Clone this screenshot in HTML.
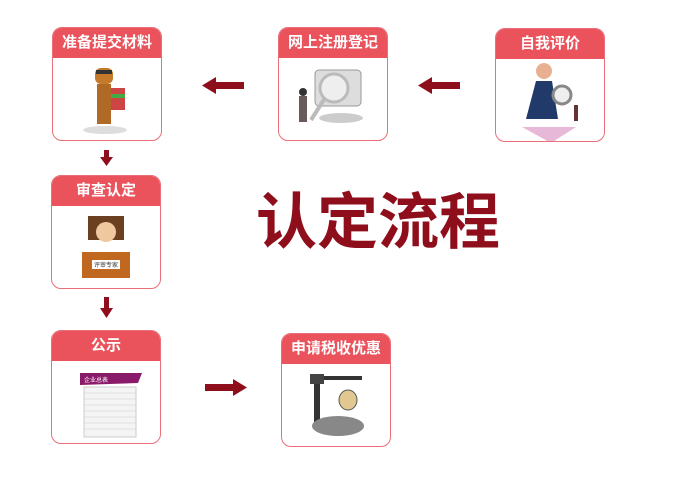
<!DOCTYPE html>
<html><head><meta charset="utf-8"><style>
body{margin:0;width:684px;height:482px;background:#fff;position:relative;overflow:hidden;font-family:"Liberation Sans","Noto Sans CJK SC",sans-serif}
.box{position:absolute;width:108px;height:112px;border:1.5px solid #ea6f78;border-radius:10px;overflow:hidden;background:#fff}
.hd{height:30px;background:#ea535c;color:#fff;font-weight:bold;font-size:15px;text-align:center;line-height:30px}
.ar{position:absolute;background:#8e0e1b}
.title{position:absolute;left:256px;top:186px;font-size:61px;font-weight:bold;color:#8e0e1b;letter-spacing:0px;line-height:72px}
</style></head><body>
<div class="box" style="left:52px;top:27px"><div class="hd">准备提交材料</div>
<svg width="108" height="82"><ellipse cx="52" cy="72" rx="22" ry="4" fill="#ddd"/><rect x="42" y="10" width="18" height="16" rx="6" fill="#c47a2a"/><rect x="44" y="26" width="14" height="40" fill="#b06a26"/><rect x="58" y="30" width="14" height="22" fill="#c44"/><rect x="58" y="36" width="14" height="4" fill="#4a4"/><rect x="43" y="12" width="16" height="4" fill="#333"/></svg></div>
<div class="box" style="left:278px;top:27px"><div class="hd">网上注册登记</div>
<svg width="108" height="82"><rect x="36" y="12" width="46" height="36" rx="4" fill="#ddd" stroke="#999"/><circle cx="55" cy="30" r="14" fill="#eee" stroke="#bbb" stroke-width="3"/><line x1="46" y1="40" x2="32" y2="62" stroke="#bbb" stroke-width="4"/><rect x="20" y="38" width="8" height="26" fill="#6a5a5a"/><circle cx="24" cy="34" r="4" fill="#333"/><ellipse cx="62" cy="60" rx="22" ry="5" fill="#ccc"/></svg></div>
<div class="box" style="left:495px;top:28px"><div class="hd">自我评价</div>
<svg width="108" height="82"><polygon points="26,68 80,68 55,84" fill="#e8b8d8"/><circle cx="48" cy="12" r="8" fill="#e8b090"/><path d="M30 60 L40 22 L56 22 L62 60Z" fill="#223a6a"/><circle cx="66" cy="36" r="9" fill="#eee" stroke="#888" stroke-width="3"/><rect x="78" y="46" width="4" height="16" fill="#633"/></svg></div>
<div class="box" style="left:51px;top:175px"><div class="hd">审查认定</div>
<svg width="108" height="82"><rect x="36" y="10" width="36" height="24" fill="#6a4020"/><circle cx="54" cy="26" r="10" fill="#f0c8a0"/><rect x="30" y="46" width="48" height="26" fill="#c06820"/><rect x="40" y="54" width="28" height="9" fill="#fff"/><text x="54" y="61" font-size="6" text-anchor="middle" fill="#333">评审专家</text><rect x="42" y="36" width="24" height="10" fill="#fff"/></svg></div>
<div class="box" style="left:51px;top:330px"><div class="hd">公示</div>
<svg width="108" height="82"><polygon points="28,12 90,12 86,22 28,24" fill="#8a1a6a"/><text x="32" y="21" font-size="6" fill="#fff">企业总表</text><rect x="32" y="26" width="52" height="50" fill="#f4f4f4" stroke="#ccc"/><g stroke="#ccc" stroke-width="0.6"><line x1="32" y1="32" x2="84" y2="32"/><line x1="32" y1="38" x2="84" y2="38"/><line x1="32" y1="44" x2="84" y2="44"/><line x1="32" y1="50" x2="84" y2="50"/><line x1="32" y1="56" x2="84" y2="56"/><line x1="32" y1="62" x2="84" y2="62"/><line x1="32" y1="68" x2="84" y2="68"/></g></svg></div>
<div class="box" style="left:281px;top:333px"><div class="hd">申请税收优惠</div>
<svg width="108" height="82"><rect x="32" y="12" width="6" height="50" fill="#333"/><rect x="28" y="12" width="52" height="4" fill="#333"/><rect x="28" y="10" width="14" height="10" fill="#444"/><ellipse cx="66" cy="36" rx="9" ry="10" fill="#e0c890" stroke="#555"/><ellipse cx="56" cy="62" rx="26" ry="10" fill="#888"/></svg></div>
<div class="title">认定流程</div>
<div class="ar" style="left:214px;top:82px;width:30px;height:7px"></div>
<svg style="position:absolute;left:202px;top:77px" width="14" height="17"><polygon points="0,8.5 14,0 14,17" fill="#8e0e1b"/></svg>
<div class="ar" style="left:430px;top:82px;width:30px;height:7px"></div>
<svg style="position:absolute;left:418px;top:77px" width="14" height="17"><polygon points="0,8.5 14,0 14,17" fill="#8e0e1b"/></svg>
<div class="ar" style="left:205px;top:384px;width:30px;height:7px"></div>
<svg style="position:absolute;left:233px;top:379px" width="14" height="17"><polygon points="14,8.5 0,0 0,17" fill="#8e0e1b"/></svg>
<div class="ar" style="left:104px;top:150px;width:5px;height:8px"></div>
<svg style="position:absolute;left:100px;top:157px" width="13" height="9"><polygon points="0,0 13,0 6.5,9" fill="#8e0e1b"/></svg>
<div class="ar" style="left:104px;top:297px;width:5px;height:12px"></div>
<svg style="position:absolute;left:100px;top:308px" width="13" height="10"><polygon points="0,0 13,0 6.5,10" fill="#8e0e1b"/></svg>
</body></html>
